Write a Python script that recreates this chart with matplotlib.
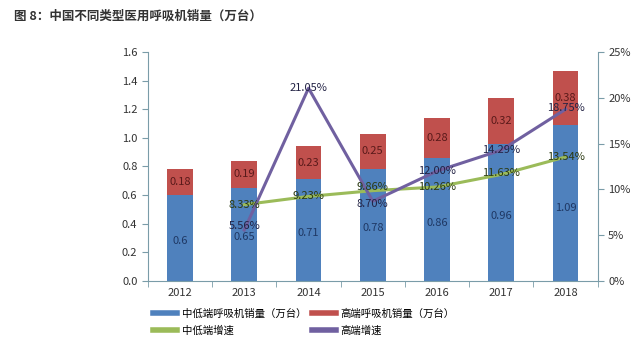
import numpy as np
import matplotlib.pyplot as plt
from matplotlib.lines import Line2D

plt.rcParams['font.family'] = ['Noto Sans CJK SC', 'DejaVu Sans']

years = ['2012', '2013', '2014', '2015', '2016', '2017', '2018']
low_sales = [0.6, 0.65, 0.71, 0.78, 0.86, 0.96, 1.09]
high_sales = [0.18, 0.19, 0.23, 0.25, 0.28, 0.32, 0.38]
# growth rates start from 2013
low_growth = [8.33, 9.23, 9.86, 10.26, 11.63, 13.54]
high_growth = [5.56, 21.05, 8.70, 12.00, 14.29, 18.75]

blue = '#4F81BD'
red = '#C0504D'
green = '#9BBB59'
purple = '#7060A0'
axis_col = '#7A9CA8'

fig = plt.figure(figsize=(6.4, 3.49), dpi=100)
ax = fig.add_axes([0.231, 0.195, 0.703, 0.656])
ax2 = ax.twinx()

x = np.arange(len(years))
w = 0.4
ax.bar(x, low_sales, w, color=blue)
ax.bar(x, high_sales, w, bottom=low_sales, color=red)
for i in range(len(years)):
    ax.text(x[i], low_sales[i] * 0.47, f'{low_sales[i]:g}', ha='center', va='center',
            fontsize=8, color='#1F3864')
    ax.text(x[i], low_sales[i] + high_sales[i] / 2, f'{high_sales[i]:.2f}', ha='center',
            va='center', fontsize=8, color='#5A1A1A')

xg = np.arange(1, len(years))
ax2.plot(xg, low_growth, color=green, lw=2.2)
ax2.plot(xg, high_growth, color=purple, lw=2.2)

low_off = [0.0, 0.0, 0.4, 0.0, 0.2, 0.0]
high_off = [0.4, 0.0, -0.3, 0.0, 0.0, 0.1]
for i in range(len(xg)):
    ax2.text(xg[i], low_growth[i] + low_off[i], f'{low_growth[i]:.2f}%', ha='center',
             va='center', fontsize=8, color='#2B3A12')
    ax2.text(xg[i], high_growth[i] + high_off[i], f'{high_growth[i]:.2f}%', ha='center',
             va='center', fontsize=8, color='#222244')

ax.set_xlim(-0.5, len(years) - 0.5)
ax.set_ylim(0, 1.6)
ax.set_yticks(np.arange(0, 1.61, 0.2))
ax.set_yticklabels([f'{v:.1f}' for v in np.arange(0, 1.61, 0.2)])
ax2.set_ylim(0, 25)
ax2.set_yticks(range(0, 26, 5))
ax2.set_yticklabels([f'{v}%' for v in range(0, 26, 5)])
ax.set_xticks(x)
ax.set_xticklabels(years)
ax.set_xticks(np.arange(-0.5, len(years)), minor=True)
ax.tick_params(axis='x', which='major', length=0, pad=5)
ax.tick_params(axis='x', which='minor', length=4, color=axis_col)

for a in (ax, ax2):
    a.spines['top'].set_visible(False)
    for s in ('left', 'right', 'bottom'):
        a.spines[s].set_color(axis_col)
    a.tick_params(axis='y', colors='#333333', labelsize=8, length=4)
    a.tick_params(axis='y', color=axis_col)
ax.tick_params(axis='x', labelsize=8, labelcolor='#333333')
ax.spines['right'].set_visible(False)
ax2.spines['left'].set_visible(False)
ax2.spines['bottom'].set_visible(False)

handles = [Line2D([], [], color=blue, lw=4), Line2D([], [], color=green, lw=4),
           Line2D([], [], color=red, lw=4), Line2D([], [], color=purple, lw=4)]
labels = ['中低端呼吸机销量（万台）', '中低端增速', '高端呼吸机销量（万台）', '高端增速']
fig.legend(handles, labels, ncol=2, loc='center', bbox_to_anchor=(0.475, 0.077),
           frameon=False, fontsize=7.5, handlelength=2.3, handletextpad=0.4,
           columnspacing=0.6, labelspacing=0.7)

fig.text(0.022, 0.955, '图 8：中国不同类型医用呼吸机销量（万台）', fontsize=9,
         fontweight='bold', color='#333333', va='center')

fig.savefig('out.png', dpi=100)
